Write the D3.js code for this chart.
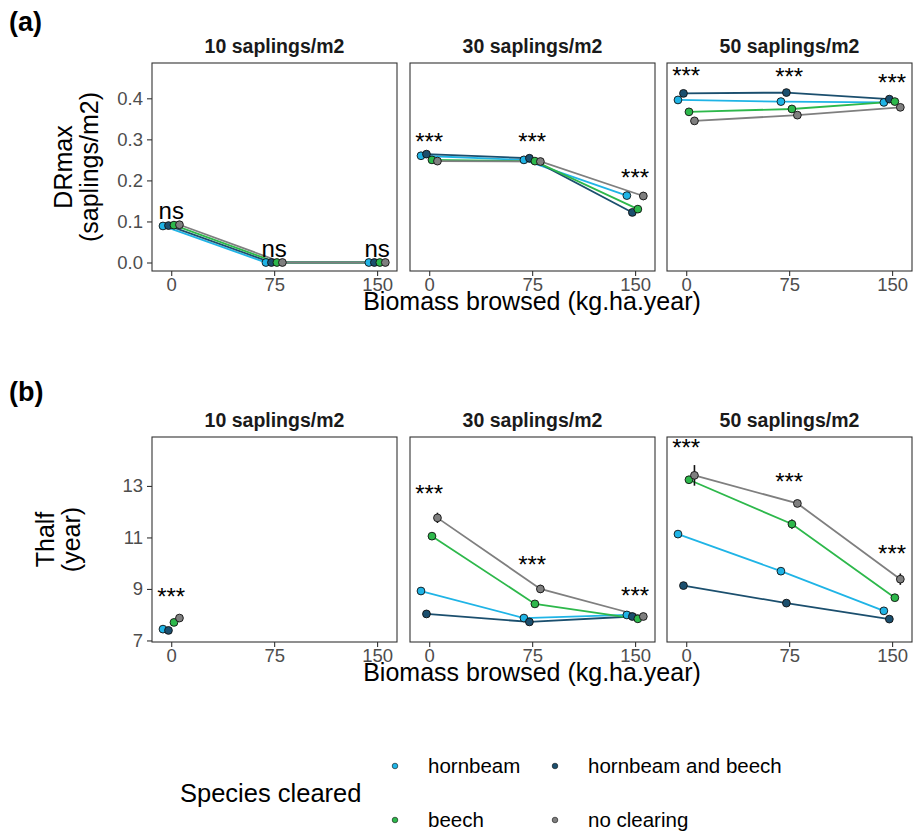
<!DOCTYPE html>
<html>
<head>
<meta charset="utf-8">
<script src="https://cdn.jsdelivr.net/npm/d3@7"></script>
<style>
  body { margin: 0; background: #fff; }
  text { font-family: "Liberation Sans", Arial, sans-serif; }
</style>
</head>
<body>
<div id="chart"></div>
<script>
// Categories
const densities = ["10 saplings/m2", "30 saplings/m2", "50 saplings/m2"];
const browsing = [0, 75, 150];
const species = ["hornbeam", "hornbeam and beech", "beech", "no clearing"];
const speciesColors = ["#1fb4e6", "#1b4f6e", "#2db84b", "#7f7f7f"];

// DRmax (saplings/m2): one row per species, one value per browsing level
const drmax10 = [[0.089, 0.0, 0.0], [0.090, 0.0, 0.0], [0.091, 0.0, 0.0], [0.092, 0.0, 0.0]];
const drmax30 = [[0.260, 0.250, 0.163], [0.264, 0.254, 0.122], [0.250, 0.247, 0.130], [0.247, 0.246, 0.162]];
const drmax50 = [[0.396, 0.392, 0.390], [0.412, 0.414, 0.398], [0.367, 0.374, 0.392], [0.345, 0.359, 0.378]];
const drmaxSe10 = [[0, 0, 0], [0, 0, 0], [0, 0, 0], [0, 0, 0]];
const drmaxSe30 = [[0.002, 0.002, 0.002], [0.003, 0.007, 0.003], [0.002, 0.002, 0.002], [0.002, 0.002, 0.010]];
const drmaxSe50 = [[0.002, 0.002, 0.002], [0.007, 0.004, 0.004], [0.002, 0.002, 0.002], [0.005, 0.002, 0.003]];

// Thalf (year)
const thalf10 = [[7.44, null, null], [7.39, null, null], [7.70, null, null], [7.87, null, null]];
const thalf30 = [[8.92, 7.87, 7.99], [8.03, 7.72, 7.93], [11.05, 8.42, 7.84], [11.76, 9.00, 7.93]];
const thalf50 = [[11.13, 9.69, 8.15], [9.13, 8.45, 7.83], [13.24, 11.52, 8.66], [13.41, 12.32, 9.38]];
const thalfSe10 = [[0.03, null, null], [0.03, null, null], [0.03, null, null], [0.03, null, null]];
const thalfSe30 = [[0.12, 0.03, 0.03], [0.03, 0.03, 0.03], [0.05, 0.04, 0.03], [0.20, 0.16, 0.04]];
const thalfSe50 = [[0.05, 0.04, 0.04], [0.04, 0.04, 0.03], [0.10, 0.18, 0.05], [0.40, 0.06, 0.22]];

// Significance labels and their heights
const sigDrmax = [["ns", "ns", "ns"], ["***", "***", "***"], ["***", "***", "***"]];
const sigDrmaxY = [[0.122, 0.029, 0.029], [0.308, 0.308, 0.219], [0.469, 0.465, 0.451]];
const sigThalf = [["***", null, null], ["***", "***", "***"], ["***", "***", "***"]];
const sigThalfY = [[8.92, null, null], [12.92, 10.15, 8.96], [14.70, 13.39, 10.58]];

const drmaxTicks = [0, 0.1, 0.2, 0.3, 0.4];
const thalfTicks = [7, 9, 11, 13];

// Layout
const width = 914;
const height = 833;
const panelX = [[152, 397], [410, 655], [667, 912]];
const FONT = '"Liberation Sans", Arial, sans-serif';

const rows = [
  {
    tag: "(a)", tagY: 31, top: 63, bottom: 271,
    domain: [-0.0207, 0.486], ticks: drmaxTicks, fmt: d3.format(".1f"),
    title: ["DRmax", "(saplings/m2)"], titleX: [63, 89],
    values: [drmax10, drmax30, drmax50], se: [drmaxSe10, drmaxSe30, drmaxSe50],
    sig: sigDrmax, sigY: sigDrmaxY,
  },
  {
    tag: "(b)", tagY: 401, top: 437, bottom: 642,
    domain: [6.94, 14.9], ticks: thalfTicks, fmt: d3.format("d"),
    title: ["Thalf", "(year)"], titleX: [45, 71],
    values: [thalf10, thalf30, thalf50], se: [thalfSe10, thalfSe30, thalfSe50],
    sig: sigThalf, sigY: sigThalfY,
  },
];

const svg = d3
  .select("#chart")
  .append("svg")
  .attr("width", width)
  .attr("height", height);

const color = d3.scaleOrdinal().domain(species).range(speciesColors);
// dodge offsets in browsing units
const dodge = d3.scalePoint().domain(species).range([-6, 6]);

const styleAxis = (a) => {
  a.select(".domain").remove();
  a.selectAll("line").attr("stroke", "#333").attr("stroke-width", 1.1);
  a.selectAll("text")
    .attr("font-size", 18.5)
    .attr("fill", "#4d4d4d")
    .style("font-family", FONT);
};

rows.forEach((row, r) => {
  svg
    .append("text")
    .attr("x", 9)
    .attr("y", row.tagY)
    .attr("font-size", 27)
    .attr("font-weight", "bold")
    .text(row.tag);

  const y = d3.scaleLinear().domain(row.domain).range([row.bottom, row.top]);

  panelX.forEach((px, c) => {
    const x = d3.scaleLinear().domain([-14, 164.5]).range(px);
    const g = svg.append("g");
    const clipId = `clip-${r}-${c}`;

    g.append("clipPath")
      .attr("id", clipId)
      .append("rect")
      .attr("x", px[0])
      .attr("y", row.top)
      .attr("width", px[1] - px[0])
      .attr("height", row.bottom - row.top);

    // Strip title
    g.append("text")
      .attr("x", (px[0] + px[1]) / 2)
      .attr("y", row.top - 10)
      .attr("text-anchor", "middle")
      .attr("font-size", 19.5)
      .attr("font-weight", "bold")
      .attr("fill", "#1a1a1a")
      .text(densities[c]);

    // x axis
    g.append("g")
      .attr("transform", `translate(0,${row.bottom})`)
      .call(d3.axisBottom(x).tickValues(browsing).tickSize(5).tickPadding(2))
      .call(styleAxis);

    // y axis on the first panel only
    if (c === 0) {
      g.append("g")
        .attr("transform", `translate(${px[0]},0)`)
        .call(d3.axisLeft(y).tickValues(row.ticks).tickFormat(row.fmt).tickSize(5).tickPadding(4))
        .call(styleAxis);
    }

    const plot = g.append("g").attr("clip-path", `url(#${clipId})`);

    const series = species.map((s, i) => ({
      name: s,
      pts: browsing.map((b, j) => ({
        x: b + dodge(s),
        y: row.values[c][i][j],
        se: row.se[c][i][j],
      })),
    }));

    const line = d3
      .line()
      .defined((d) => d.y != null)
      .x((d) => x(d.x))
      .y((d) => y(d.y));

    plot.selectAll("path.series")
      .data(series)
      .enter()
      .append("path")
      .attr("class", "series")
      .attr("fill", "none")
      .attr("stroke", (d) => color(d.name))
      .attr("stroke-width", 1.8)
      .attr("d", (d) => line(d.pts));

    // error bars
    series.forEach((s) => {
      plot.selectAll(null)
        .data(s.pts.filter((d) => d.y != null))
        .enter()
        .append("line")
        .attr("x1", (d) => x(d.x))
        .attr("x2", (d) => x(d.x))
        .attr("y1", (d) => y(d.y - d.se))
        .attr("y2", (d) => y(d.y + d.se))
        .attr("stroke", "#111")
        .attr("stroke-width", 1.6);
    });

    series.forEach((s) => {
      plot.selectAll(null)
        .data(s.pts.filter((d) => d.y != null))
        .enter()
        .append("circle")
        .attr("cx", (d) => x(d.x))
        .attr("cy", (d) => y(d.y))
        .attr("r", 3.9)
        .attr("fill", color(s.name))
        .attr("stroke", "#111")
        .attr("stroke-width", 0.9);
    });

    // significance labels
    browsing.forEach((b, j) => {
      const lab = row.sig[c][j];
      if (!lab) return;
      plot.append("text")
        .attr("x", x(b))
        .attr("y", y(row.sigY[c][j]))
        .attr("dy", lab === "ns" ? "0.26em" : "0.57em")
        .attr("text-anchor", "middle")
        .attr("font-size", 24)
        .attr("fill", "#000")
        .text(lab);
    });

    // panel border
    g.append("rect")
      .attr("x", px[0])
      .attr("y", row.top)
      .attr("width", px[1] - px[0])
      .attr("height", row.bottom - row.top)
      .attr("fill", "none")
      .attr("stroke", "#333")
      .attr("stroke-width", 1.1);
  });

  // x axis title
  svg.append("text")
    .attr("x", (panelX[0][0] + panelX[2][1]) / 2)
    .attr("y", row.bottom + 39)
    .attr("text-anchor", "middle")
    .attr("font-size", 25)
    .text("Biomass browsed (kg.ha.year)");

  // y axis title (two lines)
  const cy = (row.top + row.bottom) / 2;
  row.title.forEach((t, k) => {
    svg.append("text")
      .attr("transform", `translate(${row.titleX[k]},${cy}) rotate(-90)`)
      .attr("text-anchor", "middle")
      .attr("dy", "0.35em")
      .attr("font-size", 25)
      .text(t);
  });
});

// Legend
const legend = svg.append("g");
legend.append("text")
  .attr("x", 180)
  .attr("y", 802)
  .attr("font-size", 25.5)
  .text("Species cleared");

const legendPos = [
  { x: 395, y: 766 },
  { x: 555, y: 766 },
  { x: 395, y: 820 },
  { x: 555, y: 820 },
];

species.forEach((s, i) => {
  const p = legendPos[i];
  legend.append("circle")
    .attr("cx", p.x)
    .attr("cy", p.y)
    .attr("r", 2.8)
    .attr("fill", color(s))
    .attr("stroke", "#111")
    .attr("stroke-width", 0.6);
  legend.append("text")
    .attr("x", p.x + 33)
    .attr("y", p.y)
    .attr("dy", "0.35em")
    .attr("font-size", 20.5)
    .text(s);
});
</script>
</body>
</html>
